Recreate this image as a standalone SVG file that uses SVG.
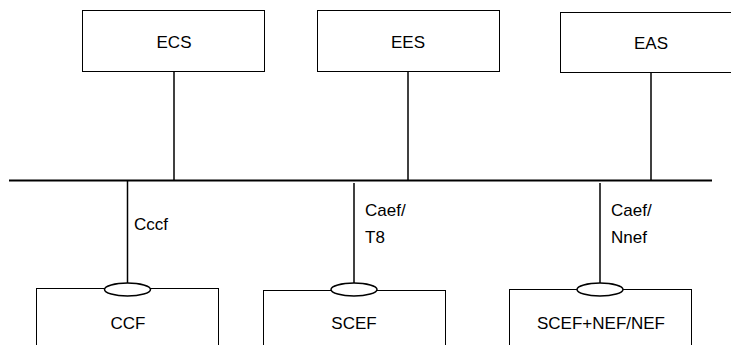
<svg xmlns="http://www.w3.org/2000/svg" width="731" height="345" viewBox="0 0 731 345">
<style>
.box{fill:#fff;stroke:#000;stroke-width:1}
.ln{stroke:#000;stroke-width:1.5;fill:none}
.ell{fill:#fff;stroke:#000;stroke-width:1.5}
text{font-family:"Liberation Sans",Arial,sans-serif;font-size:17px;fill:#000}
.c{text-anchor:middle}
</style>
<rect width="731" height="345" fill="#fff"/>
<g id="connectors">
<line class="ln" x1="9" y1="180.5" x2="712" y2="180.5" style="stroke-width:2"/>
<line class="ln" x1="174" y1="71" x2="174" y2="180"/>
<line class="ln" x1="408" y1="71" x2="408" y2="180"/>
<line class="ln" x1="651" y1="72" x2="651" y2="181"/>
<line class="ln" x1="127.5" y1="181" x2="127.5" y2="283"/>
<line class="ln" x1="354" y1="183" x2="354" y2="283"/>
<line class="ln" x1="600" y1="183" x2="600" y2="283"/>
<text x="134" y="230">Cccf</text>
<text x="365" y="216">Caef/</text>
<text x="365" y="243">T8</text>
<text x="611" y="216">Caef/</text>
<text x="611" y="243">Nnef</text>
</g>
<g id="ECS"><rect class="box" x="82.5" y="10.5" width="182" height="61"/><text class="c" x="174" y="48">ECS</text></g>
<g id="EES"><rect class="box" x="317.5" y="10.5" width="182" height="61"/><text class="c" x="408" y="48">EES</text></g>
<g id="EAS"><rect class="box" x="560.5" y="12.5" width="180" height="60"/><text class="c" x="651" y="49">EAS</text></g>
<g id="CCF"><rect class="box" x="36.5" y="288.5" width="182" height="70"/><ellipse class="ell" cx="127.5" cy="289.5" rx="23" ry="6.5"/><text class="c" x="128" y="329">CCF</text></g>
<g id="SCEF"><rect class="box" x="263.5" y="290.5" width="182" height="70"/><ellipse class="ell" cx="354" cy="289.5" rx="23" ry="6.5"/><text class="c" x="354" y="329">SCEF</text></g>
<g id="NEF"><rect class="box" x="509.5" y="289.5" width="182" height="70"/><ellipse class="ell" cx="600" cy="289.5" rx="23" ry="6.5"/><text class="c" x="601" y="329">SCEF+NEF/NEF</text></g>
</svg>
